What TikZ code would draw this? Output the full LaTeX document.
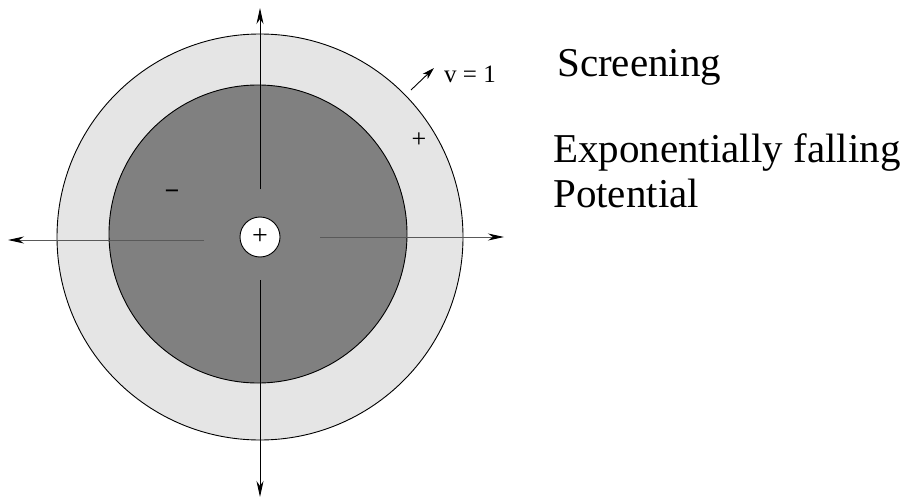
\documentclass[tikz,border=0pt]{standalone}
\usepackage{fontspec}
\setmainfont{Liberation Serif}
\usetikzlibrary{arrows.meta}
\begin{document}
\begin{tikzpicture}[x=1pt,y=-1pt,
  ring/.style={circle,draw=black,line width=0.9pt,inner sep=0pt},
  axis/.style={line width=0.9pt,-{Stealth[length=16pt,width=7pt,inset=5pt,color=black]}},
  haxis/.style={axis,draw=black!65},
  smallarrow/.style={line width=0.9pt,-{Stealth[length=12pt,width=7pt,inset=3pt]}},
  bigtext/.style={font=\fontsize{41}{45}\selectfont,anchor=base west,inner sep=0pt},
  smalltext/.style={font=\fontsize{25}{28}\selectfont,anchor=base west,inner sep=0pt},
  sign/.style={font=\fontsize{26}{26}\selectfont,inner sep=0pt}]
\useasboundingbox (0,0) rectangle (912,500);
% circles
\node[ring,fill=black!10,minimum size=406pt] (outer) at (260,237) {};
\node[ring,fill=black!50,minimum size=298pt] (inner) at (258,234) {};
\node[ring,fill=white,minimum size=40pt,font=\fontsize{28}{28}\selectfont] (core) at (260,237) {+};
% axes
\coordinate (ts) at (260,189); \coordinate (te) at (260,8);
\coordinate (bs) at (260,280); \coordinate (be) at (260,497);
\coordinate (ls) at (204,240); \coordinate (le) at (8,240);
\coordinate (rs) at (320,237); \coordinate (re) at (504,237);
\draw[axis] (ts) -- (te);
\draw[axis] (bs) -- (be);
\draw[haxis] (ls) -- (le);
\draw[haxis] (rs) -- (re);
% signs
\node[sign,font=\bfseries\fontsize{26}{26}\selectfont] (minus) at (172,195) {−};
\node[sign] (plus) at (419,140) {+};
% velocity label
\coordinate (vs) at (411,90); \coordinate (ve) at (434,68);
\draw[smallarrow] (vs) -- (ve);
\node[smalltext] (vlab) at (444,83) {v = 1};
% texts
\node[bigtext] (scr) at (557,77) {Screening};
\node[bigtext] (expo) at (553,162) {Exponentially falling};
\node[bigtext] (pot) at (553,207) {Potential};
\end{tikzpicture}
\end{document}
